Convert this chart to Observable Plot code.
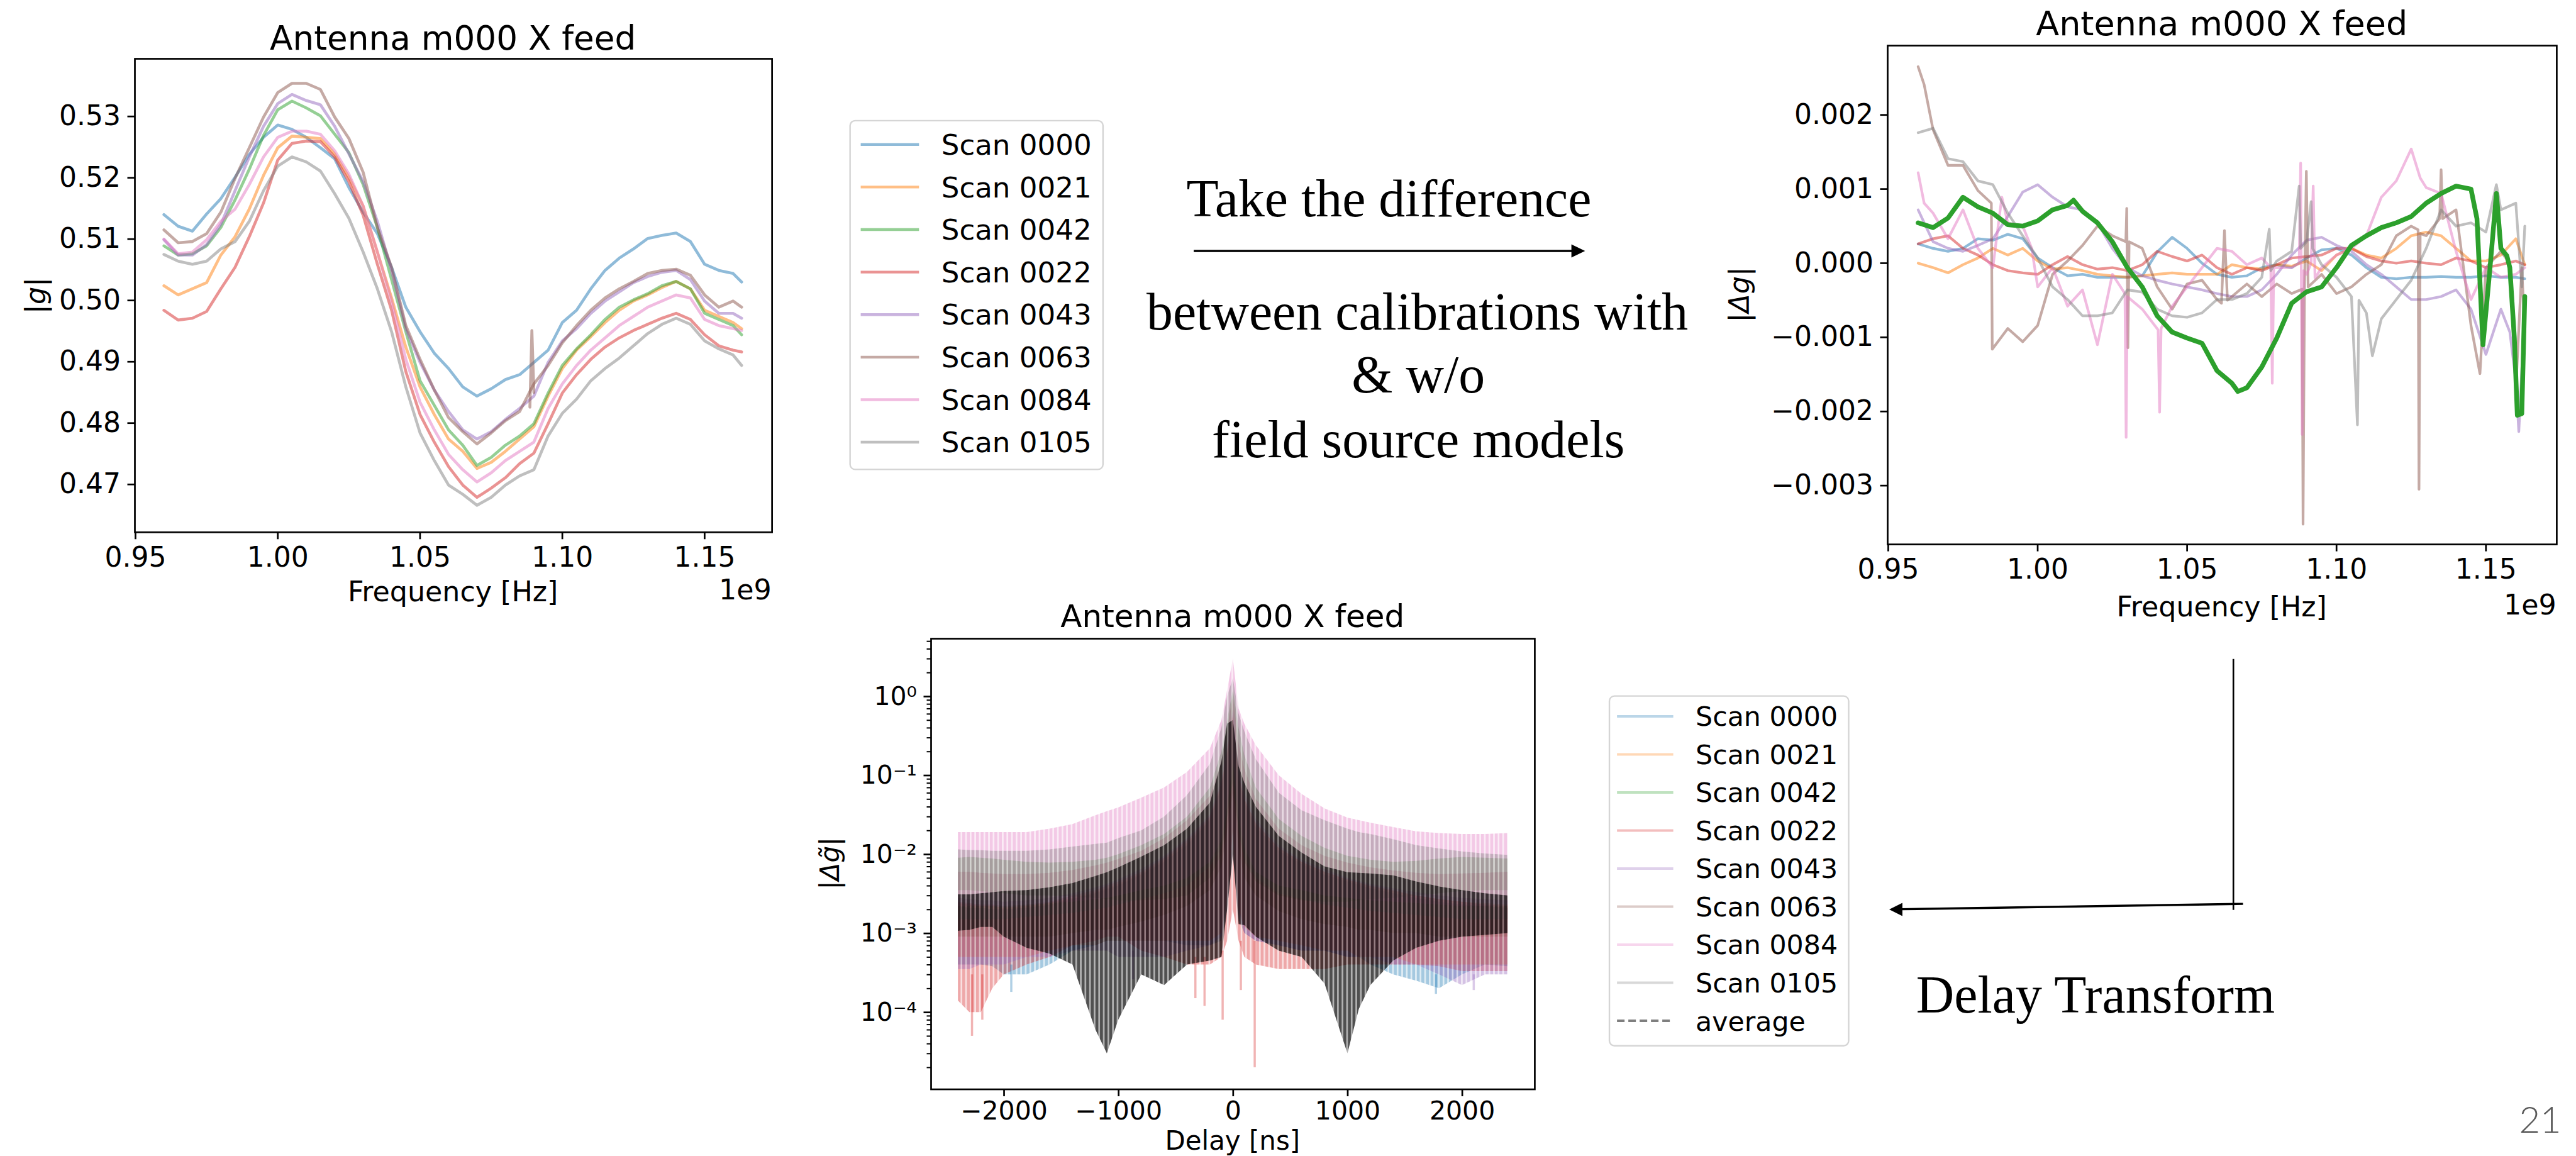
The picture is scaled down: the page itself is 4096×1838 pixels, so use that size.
<!DOCTYPE html>
<html><head><meta charset="utf-8">
<script src="https://cdn.jsdelivr.net/npm/d3@7"></script>
<script src="https://cdn.jsdelivr.net/npm/@observablehq/plot@0.6"></script>
<style>
html,body{margin:0;padding:0;background:#fff;width:4096px;height:1838px;overflow:hidden;}
#root{position:relative;width:4096px;height:1838px;}
</style></head><body><div id="root"></div><script>
const S = 0.806;
const root = document.getElementById("root");

// ================= DATA =================
const scans = ["Scan 0000","Scan 0021","Scan 0042","Scan 0022","Scan 0043","Scan 0063","Scan 0084","Scan 0105"];
const scanColors = ["#1f77b4","#ff7f0e","#2ca02c","#d62728","#9467bd","#8c564b","#e377c2","#7f7f7f"];

// Chart 1: |g| vs frequency (x in units of 1e9 Hz)
const freq1 = [0.960,0.965,0.970,0.975,0.980,0.985,0.990,0.995,1.000,1.005,1.010,1.015,1.020,1.025,1.030,1.035,1.040,1.045,1.050,1.055,1.060,1.065,1.070,1.075,1.080,1.085,1.090,1.095,1.100,1.105,1.110,1.115,1.120,1.125,1.130,1.135,1.140,1.145,1.150,1.155,1.160,1.163];
const g0000 = [0.5140,0.5121,0.5113,0.5141,0.5166,0.5201,0.5238,0.5266,0.5286,0.5279,0.5266, 0.5249,0.5231,0.5184,0.5144,0.5109,0.5054,0.4989,0.4949,0.4914,0.4889, 0.4859,0.4844,0.4856,0.4871,0.4879,0.4899,0.4919,0.4964,0.4984,0.5019,0.5049,0.5069,0.5084,0.5101,0.5106,0.5110,0.5096,0.5059,0.5049,0.5044,0.5030];
const g0021 = [0.5024,0.5009,0.5019,0.5029,0.5074,0.5104,0.5149,0.5204,0.5249,0.5268,0.5266, 0.5264,0.5239,0.5201,0.5154,0.5079,0.5004,0.4924,0.4859,0.4814,0.4774, 0.4754,0.4726,0.4736,0.4754,0.4774,0.4794,0.4844,0.4889,0.4919,0.4941,0.4964,0.4984,0.4999,0.5009,0.5021,0.5031,0.5019,0.4984,0.4974,0.4964,0.4954];
const g0042 = [0.5089,0.5074,0.5076,0.5089,0.5119,0.5164,0.5214,0.5269,0.5311,0.5325,0.5314, 0.5301,0.5271,0.5241,0.5189,0.5119,0.5034,0.4949,0.4869,0.4829,0.4789, 0.4764,0.4731,0.4744,0.4764,0.4779,0.4799,0.4849,0.4894,0.4921,0.4944,0.4969,0.4989,0.5001,0.5011,0.5024,0.5031,0.5019,0.4979,0.4969,0.4959,0.4944];
const g0022 = [0.4984,0.4968,0.4971,0.4982,0.5019,0.5054,0.5104,0.5159,0.5229,0.5256,0.5260, 0.5259,0.5234,0.5194,0.5139,0.5059,0.4984,0.4884,0.4814,0.4769,0.4729, 0.4699,0.4679,0.4694,0.4711,0.4734,0.4751,0.4799,0.4849,0.4879,0.4904,0.4924,0.4939,0.4951,0.4961,0.4971,0.4979,0.4969,0.4944,0.4926,0.4919,0.4916];
const g0043 = [0.5099,0.5074,0.5074,0.5091,0.5124,0.5179,0.5234,0.5284,0.5321,0.5336,0.5326, 0.5319,0.5284,0.5239,0.5194,0.5129,0.5049,0.4954,0.4899,0.4854,0.4819, 0.4789,0.4774,0.4786,0.4806,0.4824,0.4844,0.4899,0.4934,0.4954,0.4979,0.4999,0.5014,0.5029,0.5039,0.5046,0.5049,0.5034,0.4999,0.4979,0.4979,0.4971];
const g0063 = [0.5115,0.5094,0.5096,0.5109,0.5144,0.5199,0.5249,0.5299,0.5339,0.5354,0.5354, 0.5344,0.5299,0.5264,0.5209,0.5119,0.5054,0.4959,0.4904,0.4854,0.4809, 0.4786,0.4766,0.4784,0.4804,0.4819,0.4864,0.4894,0.4931,0.4959,0.4984,0.5004,0.5019,0.5031,0.5044,0.5049,0.5051,0.5041,0.5009,0.4989,0.4999,0.4989];
const g0084 = [0.5100,0.5076,0.5079,0.5099,0.5129,0.5149,0.5189,0.5234,0.5266,0.5276,0.5276, 0.5271,0.5244,0.5206,0.5154,0.5079,0.4999,0.4904,0.4834,0.4789,0.4749, 0.4724,0.4704,0.4719,0.4739,0.4754,0.4769,0.4824,0.4864,0.4894,0.4919,0.4939,0.4959,0.4974,0.4989,0.4999,0.5009,0.5004,0.4969,0.4959,0.4954,0.4951];
const g0105 = [0.5075,0.5064,0.5059,0.5064,0.5084,0.5096,0.5129,0.5179,0.5219,0.5234,0.5226, 0.5211,0.5174,0.5134,0.5079,0.5019,0.4949,0.4859,0.4784,0.4739,0.4699, 0.4684,0.4666,0.4679,0.4699,0.4714,0.4724,0.4779,0.4816,0.4839,0.4869,0.4889,0.4906,0.4926,0.4946,0.4961,0.4971,0.4961,0.4934,0.4921,0.4911,0.4894];
const brownSpike1 = [[1.0886,0.4826],[1.0893,0.4951],[1.0900,0.4850]];
const xTicks12 = [0.95,1.00,1.05,1.10,1.15];
const yTicks1 = [0.47,0.48,0.49,0.50,0.51,0.52,0.53];

// Chart 2: Δg vs frequency, values in units of 1e-3
const dg0000 = [[0.960,0.26],[0.965,0.20],[0.970,0.16],[0.975,0.20],[0.980,0.33],[0.985,0.31],[0.990,0.39],[0.995,0.33],[1.000,0.07],[1.005,-0.06],[1.010,-0.17],[1.015,-0.15],[1.020,-0.19],[1.025,-0.19],[1.030,-0.19],[1.035,-0.17],[1.040,0.15],[1.045,0.35],[1.050,0.20],[1.055,0.00],[1.060,-0.15],[1.065,-0.19],[1.070,-0.17],[1.075,-0.06],[1.080,-0.02],[1.085,-0.06],[1.090,0.07],[1.095,0.18],[1.100,0.20],[1.105,0.11],[1.110,-0.06],[1.115,-0.19],[1.120,-0.21],[1.125,-0.19],[1.130,-0.19],[1.135,-0.18],[1.140,-0.19],[1.145,-0.19],[1.150,-0.17],[1.155,-0.19],[1.160,-0.19],[1.163,-0.21]];
const dg0021 = [[0.960,0.00],[0.965,-0.06],[0.970,-0.13],[0.975,-0.02],[0.980,0.07],[0.985,0.20],[0.990,0.11],[0.995,0.20],[1.000,0.03],[1.005,-0.08],[1.010,-0.06],[1.015,-0.10],[1.020,-0.15],[1.025,-0.17],[1.030,-0.19],[1.035,-0.17],[1.040,-0.15],[1.045,-0.13],[1.050,-0.15],[1.055,-0.15],[1.060,-0.15],[1.065,-0.02],[1.070,-0.06],[1.075,-0.08],[1.080,-0.02],[1.085,-0.04],[1.090,0.03],[1.095,-0.10],[1.100,0.11],[1.105,0.20],[1.110,0.11],[1.115,0.07],[1.120,0.20],[1.125,0.37],[1.130,0.42],[1.135,0.37],[1.140,0.20],[1.145,0.03],[1.150,0.03],[1.155,0.11],[1.160,0.33],[1.163,-0.02]];
const dg0042 = [[0.960,0.545],[0.965,0.48],[0.970,0.61],[0.975,0.89],[0.980,0.76],[0.985,0.675],[0.990,0.52],[0.995,0.50],[1.000,0.57],[1.005,0.72],[1.010,0.78],[1.012,0.85],[1.015,0.70],[1.020,0.545],[1.025,0.29],[1.030,-0.06],[1.035,-0.32],[1.040,-0.71],[1.045,-0.93],[1.050,-1.01],[1.055,-1.08],[1.060,-1.45],[1.065,-1.62],[1.067,-1.73],[1.070,-1.68],[1.075,-1.40],[1.080,-1.01],[1.085,-0.54],[1.090,-0.385],[1.095,-0.32],[1.100,-0.06],[1.105,0.24],[1.110,0.37],[1.115,0.48],[1.120,0.545],[1.125,0.63],[1.130,0.81],[1.135,0.94],[1.140,1.04],[1.145,1.00],[1.147,0.60],[1.149,-1.10],[1.1515,0.00],[1.1535,0.94],[1.155,0.20],[1.157,0.10],[1.158,-0.06],[1.1595,-1.00],[1.1605,-2.05],[1.162,-2.03],[1.163,-0.45]];
const dg0022 = [[0.960,0.26],[0.965,0.33],[0.970,0.37],[0.975,0.20],[0.980,0.11],[0.985,-0.02],[0.990,-0.10],[0.995,-0.13],[1.000,-0.15],[1.005,-0.02],[1.010,0.09],[1.015,-0.02],[1.020,-0.08],[1.025,-0.06],[1.030,-0.10],[1.035,-0.02],[1.040,0.16],[1.045,0.09],[1.050,0.03],[1.055,0.11],[1.060,-0.06],[1.065,-0.15],[1.070,-0.06],[1.075,-0.10],[1.080,-0.02],[1.085,0.07],[1.090,0.09],[1.095,0.11],[1.100,0.20],[1.105,0.20],[1.110,0.09],[1.115,0.03],[1.120,0.00],[1.125,0.03],[1.130,0.00],[1.135,-0.02],[1.140,0.07],[1.145,0.03],[1.150,-0.06],[1.155,-0.02],[1.160,0.03],[1.163,-0.02]];
const dg0043 = [[0.960,0.72],[0.965,0.29],[0.970,0.20],[0.975,0.16],[0.980,0.24],[0.985,0.33],[0.990,0.63],[0.995,0.96],[1.000,1.06],[1.005,0.89],[1.010,0.76],[1.015,0.72],[1.020,0.545],[1.025,0.20],[1.030,-0.06],[1.035,-0.17],[1.040,-0.23],[1.045,-0.28],[1.050,-0.32],[1.055,-0.36],[1.060,-0.41],[1.065,-0.45],[1.070,-0.45],[1.075,-0.36],[1.080,-0.15],[1.085,0.11],[1.090,0.31],[1.095,0.35],[1.100,0.24],[1.105,0.16],[1.110,-0.02],[1.115,-0.15],[1.120,-0.32],[1.125,-0.49],[1.130,-0.49],[1.135,-0.45],[1.140,-0.36],[1.145,-0.62],[1.150,-1.23],[1.155,-0.62],[1.158,-0.93],[1.160,-1.58],[1.161,-2.27],[1.163,-0.62]];
const dg0063 = [[0.960,2.65],[0.962,2.41],[0.965,1.80],[0.970,1.32],[0.975,1.32],[0.980,0.98],[0.9845,0.81],[0.9848,-1.16],[0.990,-0.88],[0.995,-1.06],[1.000,-0.84],[1.005,-0.15],[1.010,0.03],[1.015,0.24],[1.020,0.50],[1.025,0.37],[1.0295,0.29],[1.0298,0.74],[1.0302,-1.14],[1.0306,0.29],[1.035,0.20],[1.040,-0.32],[1.045,-0.62],[1.050,-0.28],[1.055,-0.23],[1.060,-0.49],[1.0615,-0.54],[1.0625,0.44],[1.0635,-0.50],[1.065,-0.45],[1.070,-0.28],[1.075,-0.45],[1.080,-0.28],[1.085,-0.41],[1.0885,-0.35],[1.0888,-3.52],[1.0893,-0.30],[1.0899,1.24],[1.0905,-0.32],[1.095,-0.15],[1.100,-0.41],[1.105,-0.32],[1.110,-0.15],[1.115,-0.02],[1.120,0.37],[1.125,0.50],[1.1273,0.45],[1.1276,-3.05],[1.1280,0.40],[1.130,0.37],[1.1345,0.60],[1.135,1.26],[1.1355,0.60],[1.140,0.72],[1.145,-0.84],[1.148,-1.49],[1.150,-0.06],[1.155,0.16],[1.158,0.00],[1.160,-1.71],[1.162,-0.06],[1.163,-0.93]];
const dg0084 = [[0.960,1.22],[0.962,0.81],[0.965,0.675],[0.970,0.33],[0.975,0.72],[0.980,0.20],[0.985,-0.06],[0.988,0.89],[0.990,0.545],[0.995,0.50],[0.998,0.20],[1.000,-0.32],[1.005,-0.06],[1.010,-0.58],[1.015,-0.36],[1.020,-1.10],[1.025,-0.15],[1.0292,-0.41],[1.0296,-2.35],[1.0300,-0.45],[1.035,-0.62],[1.0403,-0.90],[1.0408,-2.01],[1.0413,-0.88],[1.045,-0.58],[1.050,-0.32],[1.055,-0.06],[1.060,0.20],[1.065,0.16],[1.070,-0.02],[1.075,0.07],[1.078,-0.06],[1.0785,-1.62],[1.079,-0.06],[1.085,-0.06],[1.0875,0.00],[1.0880,1.35],[1.0885,-2.31],[1.0890,-0.10],[1.090,-0.15],[1.0915,0.00],[1.0922,1.04],[1.0928,-0.20],[1.095,-0.06],[1.100,0.11],[1.105,0.20],[1.110,0.37],[1.115,0.89],[1.120,1.11],[1.125,1.54],[1.128,1.15],[1.130,1.02],[1.135,0.94],[1.140,0.16],[1.145,-0.49],[1.150,-0.06],[1.155,-0.19],[1.160,-0.15],[1.163,-0.06]];
const dg0105 = [[0.960,1.76],[0.965,1.82],[0.970,1.41],[0.975,1.37],[0.980,1.11],[0.985,1.06],[0.990,0.675],[0.995,0.37],[1.000,0.07],[1.005,-0.32],[1.010,-0.49],[1.015,-0.71],[1.020,-0.71],[1.025,-0.67],[1.030,-0.36],[1.035,-0.39],[1.040,-0.62],[1.045,-0.71],[1.050,-0.73],[1.055,-0.67],[1.060,-0.49],[1.065,-0.49],[1.070,-0.41],[1.075,-0.19],[1.0775,0.46],[1.078,-0.10],[1.080,0.03],[1.085,0.16],[1.0875,1.04],[1.0880,0.20],[1.090,0.29],[1.0915,0.83],[1.092,0.20],[1.095,-0.02],[1.100,-0.19],[1.105,-0.45],[1.107,-2.18],[1.1075,-0.50],[1.110,-0.67],[1.112,-1.25],[1.115,-0.75],[1.120,-0.49],[1.125,-0.23],[1.130,0.20],[1.135,0.72],[1.140,0.50],[1.145,0.545],[1.150,0.42],[1.1535,1.06],[1.155,0.72],[1.160,0.81],[1.162,-0.32],[1.163,0.50]];
const yTicks2 = [-3,-2,-1,0,1,2];

// Chart 3: delay spectrum envelopes (upper / lower of each comb)
const delays = [-2400,-2300,-2200,-2100,-2000,-1800,-1600,-1400,-1200,-1100,-1000,-800,-600,-400,-200,-100,-50,0,50,100,200,400,600,800,1000,1100,1200,1400,1600,1800,2000,2200,2400];
const hi0000 = [0.0022,0.0021,0.0021,0.002,0.002,0.0021,0.0023,0.0027,0.0032,0.0036,0.004,0.0055,0.008,0.013,0.027,0.07,0.18,0.5,0.09,0.045,0.022,0.011,0.0075,0.0055,0.0045,0.0041,0.0037,0.0032,0.0028,0.0025,0.0023,0.0022,0.0021];
const lo0000 = [0.0004,0.0004,0.0004,0.00038,0.0003,0.0003,0.0004,0.0006,0.0007,0.0008,0.0008,0.0008,0.0008,0.0007,0.0007,0.0008,0.002,0.01,0.0015,0.001,0.0008,0.0007,0.0006,0.0006,0.0005,0.0005,0.0004,0.0003,0.00025,0.0002,0.0003,0.0004,0.00038];
const hi0021 = [0.0024,0.0023,0.0022,0.0022,0.0021,0.0022,0.0024,0.0028,0.0033,0.0037,0.0042,0.0057,0.0085,0.014,0.028,0.075,0.2,0.55,0.1,0.05,0.024,0.012,0.008,0.006,0.0047,0.0043,0.0039,0.0034,0.003,0.0027,0.0025,0.0024,0.0023];
const lo0021 = [0.0005,0.0005,0.0005,0.0005,0.0005,0.0005,0.0006,0.0007,0.0007,0.0008,0.0008,0.0008,0.0008,0.0008,0.0008,0.001,0.003,0.02,0.002,0.0012,0.0009,0.0008,0.0007,0.0006,0.0006,0.0005,0.0005,0.0005,0.0004,0.0004,0.0004,0.0004,0.0004];
const hi0042 = [0.009,0.0092,0.009,0.0088,0.0085,0.008,0.0078,0.008,0.0085,0.009,0.01,0.013,0.018,0.03,0.07,0.2,0.5,1.2,0.4,0.18,0.07,0.028,0.017,0.012,0.0095,0.009,0.0085,0.008,0.0082,0.0088,0.0092,0.009,0.0088];
const lo0042 = [0.0035,0.0035,0.0034,0.0033,0.0032,0.003,0.003,0.0029,0.0028,0.0027,0.0026,0.0026,0.0027,0.003,0.005,0.01,0.03,0.08,0.02,0.008,0.0045,0.003,0.0026,0.0025,0.0025,0.0026,0.0027,0.0028,0.003,0.0032,0.0034,0.0035,0.0035];
const hi0022 = [0.0025,0.0024,0.0023,0.0023,0.0022,0.0023,0.0025,0.003,0.0035,0.004,0.0045,0.006,0.009,0.015,0.03,0.08,0.2,0.6,0.1,0.05,0.025,0.012,0.008,0.006,0.0048,0.0044,0.004,0.0035,0.003,0.0027,0.0025,0.0023,0.0022];
const lo0022 = [0.00014,0.0001,0.0001,0.0002,0.0003,0.0004,0.0005,0.0007,0.0008,0.0009,0.0009,0.0006,0.0005,0.0004,0.0004,0.0005,0.0008,0.002,0.0008,0.0005,0.0004,0.00035,0.00035,0.00035,0.0004,0.0004,0.0004,0.0004,0.0004,0.00038,0.00033,0.00033,0.00033];
const hi0043 = [0.0028,0.0027,0.0026,0.0026,0.0025,0.0026,0.0028,0.0032,0.0038,0.0042,0.0048,0.0065,0.0095,0.016,0.032,0.09,0.25,0.7,0.12,0.06,0.028,0.013,0.0085,0.0065,0.005,0.0046,0.0042,0.0037,0.0033,0.003,0.0028,0.0027,0.0026];
const lo0043 = [0.00035,0.00035,0.0004,0.0004,0.0004,0.0005,0.0005,0.0006,0.0006,0.0006,0.0005,0.0005,0.0005,0.0006,0.0007,0.0009,0.003,0.02,0.002,0.001,0.0008,0.0007,0.0006,0.0006,0.0005,0.0005,0.0005,0.0004,0.0004,0.0003,0.00022,0.0003,0.0003];
const hi0063 = [0.006,0.006,0.0058,0.0057,0.0056,0.0056,0.0058,0.0063,0.0072,0.0078,0.0087,0.011,0.016,0.027,0.055,0.15,0.4,1.0,0.25,0.12,0.05,0.021,0.013,0.0095,0.0078,0.0073,0.0068,0.0062,0.0058,0.0056,0.0057,0.0058,0.006];
const lo0063 = [0.0009,0.0009,0.0009,0.0009,0.0009,0.0009,0.0009,0.001,0.0011,0.0011,0.0012,0.0014,0.0017,0.0022,0.0035,0.007,0.02,0.06,0.012,0.005,0.003,0.0019,0.0015,0.0013,0.0012,0.0011,0.0011,0.001,0.001,0.0009,0.0009,0.0009,0.0009];
const hi0084 = [0.019,0.019,0.019,0.019,0.019,0.019,0.021,0.024,0.031,0.035,0.039,0.052,0.07,0.11,0.22,0.5,1.2,3.0,0.7,0.45,0.24,0.1,0.058,0.038,0.029,0.027,0.025,0.022,0.0195,0.0185,0.018,0.018,0.0185];
const lo0084 = [0.0022,0.0022,0.0022,0.0022,0.0022,0.0023,0.0024,0.0025,0.0027,0.0028,0.003,0.0035,0.004,0.005,0.008,0.015,0.04,0.15,0.03,0.012,0.006,0.004,0.0035,0.003,0.0028,0.0027,0.0026,0.0025,0.0024,0.0023,0.0022,0.0022,0.0022];
const hi0105 = [0.0115,0.0113,0.0112,0.011,0.011,0.011,0.0115,0.0125,0.0135,0.014,0.016,0.02,0.03,0.056,0.14,0.4,1.0,1.7,0.6,0.36,0.16,0.06,0.036,0.027,0.021,0.019,0.018,0.0155,0.013,0.0118,0.0108,0.0102,0.0098];
const lo0105 = [0.0015,0.0015,0.0015,0.0015,0.0015,0.0016,0.0017,0.0018,0.002,0.0021,0.0023,0.0027,0.0032,0.004,0.007,0.012,0.03,0.1,0.02,0.009,0.005,0.0032,0.0027,0.0023,0.0021,0.002,0.0019,0.0018,0.0017,0.0016,0.0015,0.0015,0.0015];
const hiAvg = [0.0031,0.0031,0.0032,0.0033,0.0034,0.0035,0.0038,0.0043,0.0053,0.0059,0.0068,0.0093,0.013,0.021,0.045,0.15,0.45,0.5,0.13,0.08,0.04,0.017,0.0105,0.007,0.0059,0.0058,0.0057,0.0054,0.0045,0.0039,0.0035,0.0032,0.003];
const loAvg = [0.00107,0.0011,0.0012,0.0012,0.0009,0.00065,0.00055,0.0004,0.00006,0.00003,0.00008,0.0003,0.00022,0.0004,0.00045,0.0005,0.002,0.01,0.0013,0.00126,0.0009,0.0006,0.0005,0.00023,0.00003,0.00011,0.00022,0.00045,0.00065,0.0008,0.0009,0.00095,0.001];
const spikes3 = [["Scan 0022",-2280,0.00005,0.0003],["Scan 0022",-2190,0.00008,0.0003],["Scan 0022",-330,0.00015,0.0005],["Scan 0022",-250,0.00012,0.0005],["Scan 0022",-92,0.00008,0.0006],["Scan 0022",67,0.00019,0.0008],["Scan 0022",188,0.00002,0.0008],["Scan 0000",-1937,0.00018,0.0004],["Scan 0000",1770,0.00017,0.0003],["Scan 0043",-874,0.00026,0.0006],["Scan 0043",2100,0.00019,0.0003]];
const xTicks3 = [-2000,-1000,0,1000,2000];
const yTicks3 = [1e-4,1e-3,1e-2,1e-1,1];
const yTickLabels3 = ["10\u207B\u2074","10\u207B\u00B3","10\u207B\u00B2","10\u207B\u00B9","10\u2070"];

// ================= TABLES =================
const gainSeries = [g0000,g0021,g0042,g0022,g0043,g0063,g0084,g0105];
const rows1 = scans.flatMap((s,k) => freq1.map((f,i) => ({scan:s, f, v:gainSeries[k][i]})));
const spikeRows1 = brownSpike1.map(([f,v]) => ({scan:"Scan 0063", f, v}));
const dgSeries = [dg0000,dg0021,dg0042,dg0022,dg0043,dg0063,dg0084,dg0105];
const rows2 = scans.flatMap((s,k) => dgSeries[k].map(([f,v]) => ({scan:s, f, v})));
const hiSeries = [hi0000,hi0021,hi0042,hi0022,hi0043,hi0063,hi0084,hi0105];
const loSeries = [lo0000,lo0021,lo0042,lo0022,lo0043,lo0063,lo0084,lo0105];
const rowsAvg = delays.map((d,i) => ({d, hi:hiAvg[i], lo:loAvg[i]}));
const spikeRows3 = spikes3.map(([scan,d,lo,hi]) => ({scan,d,lo,hi}));
const tickLab3 = new Map(yTicks3.map((t,i) => [t, yTickLabels3[i]]));
const minor3 = [];
for (let k = -5; k <= 0; k++) for (let m = 2; m <= 9; m++) { const v = m*Math.pow(10,k); if (v > 1.06e-5 && v < 5.4) minor3.push(v); }

// ================= PLOTS =================
const colorScale = {domain: scans, range: scanColors};
const TS = 11.5, SW = 2.7;
function place(frame, opts, marks) {
  const fx = frame[0]*S, fy = frame[1]*S, fw = (frame[2]-frame[0])*S, fh = (frame[3]-frame[1])*S;
  const ml = 220, mt = 20, mr = 30, mb = 100;
  const svg = Plot.plot({
    width: ml+fw+mr, height: mt+fh+mb,
    marginLeft: ml, marginTop: mt, marginRight: mr, marginBottom: mb,
    style: {fontFamily: "'DejaVu Sans'", fontSize: "44px", color: "#000", background: "transparent", overflow: "visible"},
    color: colorScale,
    ...opts, marks
  });
  svg.style.position = "absolute";
  svg.style.left = (fx-ml)+"px";
  svg.style.top = (fy-mt)+"px";
  svg.style.maxWidth = "none";
  root.appendChild(svg);
  return svg;
}

// Chart 1
place([265,116,1522,1050], {
  x: {domain: [0.9498, 1.1737]},
  y: {domain: [0.4622, 0.5394]}
}, [
  Plot.line(rows1, {x:"f", y:"v", z:"scan", stroke:"scan", strokeOpacity:0.5, strokeWidth:4.6}),
  Plot.line(spikeRows1, {x:"f", y:"v", stroke:"scan", strokeOpacity:0.5, strokeWidth:4.6}),
  Plot.frame({stroke:"#000", strokeWidth:SW}),
  Plot.axisX({ticks:xTicks12, tickFormat:d3.format(".2f"), tickSize:TS, tickPadding:12, strokeWidth:SW, fontSize:44, label:null}),
  Plot.axisY({ticks:yTicks1, tickFormat:d3.format(".2f"), tickSize:TS, tickPadding:11, strokeWidth:SW, fontSize:44, label:null})
]);

// Chart 2
place([3723,89,5043,1073], {
  x: {domain: [0.9498, 1.1737]},
  y: {domain: [-3.793, 2.935]}
}, [
  Plot.line(rows2.filter(r => r.scan !== "Scan 0042"), {x:"f", y:"v", z:"scan", stroke:"scan", strokeOpacity:0.5, strokeWidth:4.2}),
  Plot.line(rows2.filter(r => r.scan === "Scan 0042"), {x:"f", y:"v", stroke:"scan", strokeWidth:7.5}),
  Plot.frame({stroke:"#000", strokeWidth:SW}),
  Plot.axisX({ticks:xTicks12, tickFormat:d3.format(".2f"), tickSize:TS, tickPadding:12, strokeWidth:SW, fontSize:44, label:null}),
  Plot.axisY({ticks:yTicks2, tickFormat:d => d3.format(".3f")(d/1000), tickSize:TS, tickPadding:11, strokeWidth:SW, fontSize:44, label:null})
]);

// Chart 3 — each comb drawn as a striped band (vertical stripe pattern = comb teeth)
const bandMarks = scans.map((s,k) =>
  Plot.areaY(delays.map((d,i) => ({d, hi:hiSeries[k][i], lo:loSeries[k][i]})),
    {x:"d", y1:"lo", y2:"hi", fill:`url(#comb${k})`, curve:"linear"}));
const svg3 = place([1836,1259,3027,2148], {
  x: {domain: [-2637, 2633]},
  y: {type:"log", domain: [1.06e-5, 5.4]}
}, [
  ...bandMarks,
  Plot.ruleX(spikeRows3, {x:"d", y1:"lo", y2:"hi", stroke:"scan", strokeOpacity:0.35, strokeWidth:3.5}),
  Plot.areaY(rowsAvg, {x:"d", y1:"lo", y2:"hi", fill:"url(#combAvg)", curve:"linear"}),
  Plot.frame({stroke:"#000", strokeWidth:SW}),
  Plot.axisX({ticks:xTicks3, tickFormat:d3.format("d"), tickSize:TS, tickPadding:7, strokeWidth:SW, fontSize:41, label:null}),
  Plot.axisY({ticks:minor3, tickFormat:() => "", tickSize:6.5, strokeWidth:2, label:null}),
  Plot.axisY({ticks:yTicks3, tickFormat:d => tickLab3.get(d), tickSize:TS, tickPadding:11, strokeWidth:SW, fontSize:41, label:null})
]);
{
  const P = 7.3, W = 4.6;
  const defs = d3.select(svg3).insert("defs", ":first-child");
  scanColors.forEach((c,k) => {
    const p = defs.append("pattern").attr("id", `comb${k}`).attr("patternUnits","userSpaceOnUse")
      .attr("width", P).attr("height", 20);
    p.append("rect").attr("width", P).attr("height", 20).attr("fill", c).attr("fill-opacity", 0.14);
    p.append("rect").attr("width", W).attr("height", 20).attr("fill", c).attr("fill-opacity", 0.3);
  });
  const pa = defs.append("pattern").attr("id","combAvg").attr("patternUnits","userSpaceOnUse")
    .attr("width", P).attr("height", 20);
  pa.append("rect").attr("width", P).attr("height", 20).attr("fill", "#000").attr("fill-opacity", 0.3);
  pa.append("rect").attr("width", W).attr("height", 20).attr("fill", "#000").attr("fill-opacity", 0.55);
}

// ================= OVERLAY (titles, labels, legends, slide text) =================
const ov = d3.create("svg").attr("width",4096).attr("height",1838)
  .style("position","absolute").style("left","0px").style("top","0px").style("overflow","visible");
root.appendChild(ov.node());

function txt(x, y, s, o = {}) {
  const t = ov.append("text").attr("x", x*S).attr("y", y*S)
    .attr("text-anchor", o.anchor || "middle")
    .attr("font-family", o.family || "DejaVu Sans")
    .attr("font-size", (o.size || 55)*S)
    .attr("fill", o.fill || "#000");
  if (o.weight) t.attr("font-weight", o.weight);
  t.text(s);
  return t;
}
function ylab(cx, cy, parts, size) {
  const t = ov.append("text").attr("transform", `translate(${cx*S},${cy*S}) rotate(-90)`)
    .attr("text-anchor","middle").attr("dominant-baseline","central")
    .attr("font-family","DejaVu Sans").attr("font-size", size*S).attr("fill","#000");
  parts.forEach(([s, it]) => t.append("tspan").attr("font-style", it ? "italic" : "normal").text(s));
}

// titles
const title = "Antenna m000 X feed";
txt(893.5, 98, title, {size:66});
txt(4383, 70, title, {size:67});
txt(2431.5, 1237, title, {size:62});
// x labels
txt(893.5, 1186, "Frequency [Hz]", {size:55});
txt(4383, 1216, "Frequency [Hz]", {size:55});
txt(2431.5, 2268, "Delay [ns]", {size:52});
txt(1522, 1182, "1e9", {size:55, anchor:"end"});
txt(5043, 1212, "1e9", {size:55, anchor:"end"});
// y labels
ylab(69, 583, [["|",0],["g",1],["|",0]], 55);
ylab(3430, 581, [["|",0],["\u0394g",1],["|",0]], 55);
ylab(1637, 1703, [["|",0],["\u0394g\u0303",1],["|",0]], 52);

// legends
function legend(box, lx0, lx1, tx, y0, dy, size, entries, lw) {
  ov.append("rect").attr("x", box[0]*S).attr("y", box[1]*S)
    .attr("width", (box[2]-box[0])*S).attr("height", (box[3]-box[1])*S)
    .attr("rx", 8).attr("fill", "#fff").attr("fill-opacity", 0.8)
    .attr("stroke", "#d5d5d5").attr("stroke-width", 2.4);
  entries.forEach((e, i) => {
    const y = (y0 + i*dy)*S;
    ov.append("line").attr("x1", lx0*S).attr("x2", lx1*S).attr("y1", y).attr("y2", y)
      .attr("stroke", e.color).attr("stroke-opacity", e.opacity).attr("stroke-width", lw)
      .attr("stroke-dasharray", e.dash || null);
    ov.append("text").attr("x", tx*S).attr("y", y).attr("dy", "0.36em")
      .attr("font-family", "DejaVu Sans").attr("font-size", size*S).attr("fill", "#000").text(e.label);
  });
}
legend([1677,238,2176,926], 1698, 1813, 1857, 285, 83.9, 56,
  scans.map((s,i) => ({label:s, color:scanColors[i], opacity:0.5})), 4.4);
legend([3175,1373,3647,2063], 3190, 3301, 3345, 1413, 75.1, 53,
  scans.map((s,i) => ({label:s, color:scanColors[i], opacity:0.3}))
    .concat([{label:"average", color:"#000", opacity:0.5, dash:"12,6"}]), 4.0);

// slide text + arrows
const serif = "Liberation Serif";
txt(2740, 427, "Take the difference", {size:104, family:serif});
txt(2796, 650, "between calibrations with", {size:104, family:serif});
txt(2798, 774, "& w/o", {size:104, family:serif});
txt(2798, 902, "field source models", {size:104, family:serif});
txt(4134, 1998, "Delay Transform", {size:104, family:serif});

ov.append("line").attr("x1", 2355*S).attr("y1", 495*S).attr("x2", 3102*S).attr("y2", 495*S)
  .attr("stroke", "#000").attr("stroke-width", 3.4);
ov.append("path").attr("d", `M${3127*S},${495*S} L${3100*S},${482*S} L${3100*S},${508*S} Z`).attr("fill", "#000");

ov.append("line").attr("x1", 4406*S).attr("y1", 1300*S).attr("x2", 4406*S).attr("y2", 1795*S)
  .attr("stroke", "#000").attr("stroke-width", 2.6);
ov.append("line").attr("x1", 4425*S).attr("y1", 1783*S).attr("x2", 3750*S).attr("y2", 1793.6*S)
  .attr("stroke", "#000").attr("stroke-width", 3.4);
ov.append("path").attr("d", `M${3727*S},${1794*S} L${3753*S},${1781*S} L${3753*S},${1807*S} Z`).attr("fill", "#000");

txt(5053, 2235, "21", {size:72, anchor:"end", family:"Lato", weight:300, fill:"#5a5a5a"});
</script></body></html>
